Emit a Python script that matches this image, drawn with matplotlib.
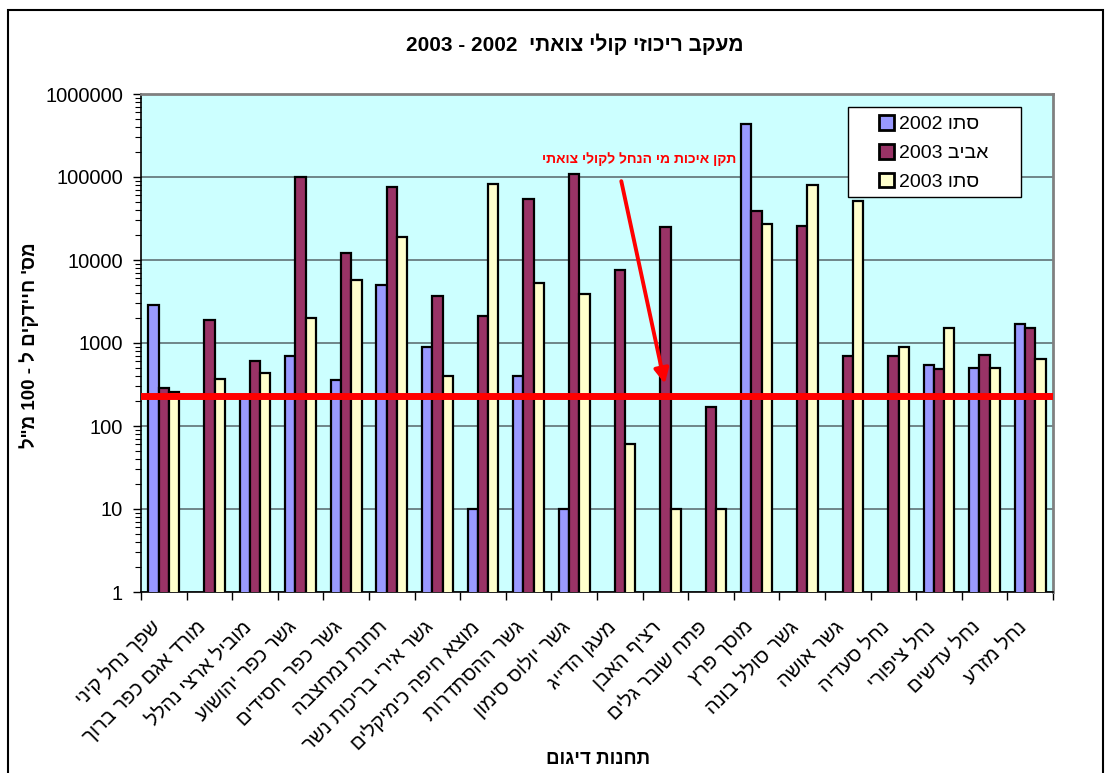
import re
import numpy as np
import matplotlib
matplotlib.use('Agg')
import matplotlib.pyplot as plt
from matplotlib.transforms import ScaledTranslation

plt.rcParams['font.family'] = ['Liberation Sans', 'DejaVu Sans']

nan = np.nan

stations = ['שפך נחל קיני', 'מורד אגם כפר ברוך', 'מוביל ארצי נהלל', 'גשר כפר יהושוע',
            'גשר כפר חסידים', 'תחנת נמחצבה', 'גשר אירי בריכות נשר', 'מוצא חיפה כימיקלים',
            'גשר ההסתדרות', 'גשר יולוס סימון', 'מעגן הדייג', 'רציף האבן',
            'פתח שובר גלים', 'מוסך פרץ', 'גשר סולל בונה', 'גשר אושה',
            'נחל סעדיה', 'נחל ציפורי', 'נחל עדשים', 'נחל מזרע']

autumn_2002 = [2900, nan, 225, 700, 360, 5000, 900, 10, 400, 10,
               nan, nan, nan, 430000, nan, nan, nan, 550, 500, 1700]
spring_2003 = [290, 1900, 600, 100000, 12000, 75000, 3700, 2100, 55000, 110000,
               7600, 25000, 170, 39000, 26000, 690, 700, 480, 720, 1500]
autumn_2003 = [260, 370, 440, 2000, 5800, 19000, 400, 83000, 5300, 3900,
               60, 10, 10, 27000, 80000, 52000, 900, 1500, 500, 640]

series_names = ['סתו 2002', 'אביב 2003', 'סתו 2003']
standard = 230


def vis(s):
    # matplotlib has no bidi: reverse Hebrew, keep digit runs in order
    r = s[::-1]
    return re.sub(r'\d+', lambda m: m.group(0)[::-1], r)


fig = plt.figure(figsize=(11.11, 7.73), dpi=100)
ax = fig.add_axes([141 / 1111, 1 - 592 / 773, 912 / 1111, 498 / 773])
ax.set_facecolor('#CCFFFF')

x = np.arange(len(stations))
w = 0.225
colors = ['#9999FF', '#993366', '#FFFFCC']
for i, (vals, c, name) in enumerate(zip([autumn_2002, spring_2003, autumn_2003], colors, series_names)):
    ax.bar(x + (i - 1) * w, vals, w, color=c, edgecolor='black', linewidth=1.6,
           label=vis(name), zorder=3)

ax.set_yscale('log')
ax.set_ylim(1, 1000000)
ax.set_xlim(-0.5, len(stations) - 0.5)
ax.set_yticks([1, 10, 100, 1000, 10000, 100000, 1000000])
ax.set_yticklabels(['1', '10', '100', '1000', '10000', '100000', '1000000'], fontsize=14.5)
ax.yaxis.grid(True, which='major', color='#56666a', linewidth=1.1, zorder=1)
ax.tick_params(axis='y', which='major', length=6, width=1, direction='out', pad=7)
ax.tick_params(axis='y', which='minor', length=4, width=0.8, direction='out')

ax.set_xticks(np.arange(-0.5, len(stations), 1))
ax.set_xticklabels([])
ax.tick_params(axis='x', which='major', length=6, width=1, direction='out')
ax.set_xticks(x, minor=True)
ax.set_xticklabels([vis(s) for s in stations], minor=True, rotation=45,
                   ha='right', va='center', rotation_mode='anchor', fontsize=14.5)
ax.tick_params(axis='x', which='minor', length=0, pad=23)
for lab in ax.get_xticklabels(minor=True):
    lab.set_transform(lab.get_transform() + ScaledTranslation(-7 / 100, 0, fig.dpi_scale_trans))

for side in ['top', 'right']:
    ax.spines[side].set_color('#808080')
    ax.spines[side].set_linewidth(2)
ax.spines['left'].set_linewidth(1.2)
ax.spines['bottom'].set_linewidth(1.2)

ax.axhline(standard, color='red', linewidth=5, zorder=4)
ax.annotate('', xy=(11.0, 300), xytext=(10.02, 96000),
            arrowprops=dict(arrowstyle='-|>', color='red', lw=2.8, mutation_scale=22), zorder=5)
ax.text(10.42, 165000, vis('תקן איכות מי הנחל לקולי צואתי'), color='red', fontsize=10,
        fontweight='bold', ha='center', va='center', zorder=5)

# legend: Excel-style wide white box with centred entries
ax.add_patch(plt.Rectangle((0.775, 0.793), 0.19, 0.181, transform=ax.transAxes,
                           facecolor='white', edgecolor='black', linewidth=1, zorder=6))
leg = ax.legend(loc='center', bbox_to_anchor=(0.869, 0.882), fontsize=14,
                frameon=False, borderaxespad=0,
                handlelength=0.8, handleheight=0.8, handletextpad=0.25,
                borderpad=0, labelspacing=0.55)
for h in leg.legend_handles:
    h.set_linewidth(2)
leg.set_zorder(7)

fig.text(575 / 1111, 1 - 44 / 773, vis('מעקב ריכוזי קולי צואתי  2002 - 2003'),
         ha='center', va='center', fontsize=15, fontweight='bold')
fig.text(29 / 1111, 1 - 345 / 773, vis('מס\' חיידקים ל - 100 מ"ל'), rotation=90,
         ha='center', va='center', fontsize=13.5, fontweight='bold')
fig.text(598 / 1111, 1 - 760 / 773, vis('תחנות דיגום'), ha='center', va='center',
         fontsize=13.5, fontweight='bold')

fig.patches.append(plt.Rectangle((8 / 1111, -0.1), 1095 / 1111, 1.1 - 10 / 773,
                                 transform=fig.transFigure, fill=False,
                                 edgecolor='black', linewidth=1.5))

fig.savefig('out.png', dpi=100)
